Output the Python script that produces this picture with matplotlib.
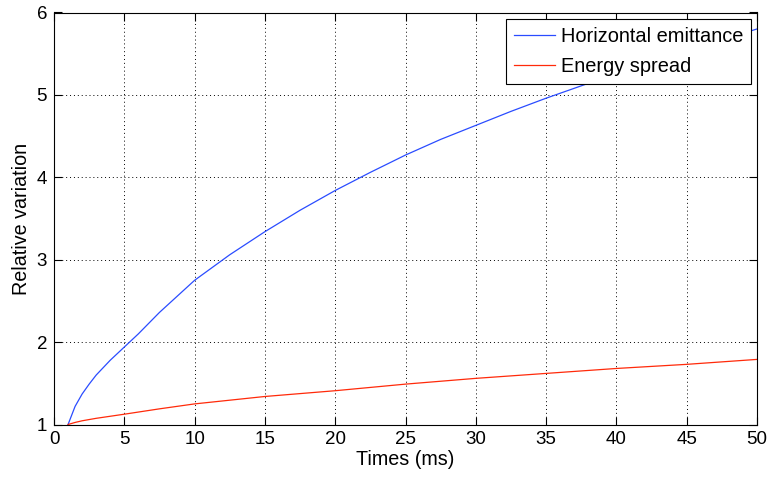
import matplotlib
matplotlib.use("Agg")
import matplotlib.pyplot as plt

# Data
t_emit = [1, 1.5, 2, 2.5, 3, 3.5, 4, 5, 6, 7.5, 10, 12.5, 15, 17.5, 20, 22.5, 25,
          27.5, 30, 32.5, 35, 37.5, 40, 42.5, 45, 47.5, 50]
emittance = [1.00, 1.22, 1.37, 1.49, 1.60, 1.69, 1.78, 1.94, 2.10, 2.36, 2.75,
             3.06, 3.34, 3.60, 3.84, 4.06, 4.27, 4.46, 4.63, 4.80, 4.96, 5.11,
             5.26, 5.40, 5.54, 5.67, 5.80]
t_spread = [1, 1.5, 2, 3, 4, 5, 7.5, 10, 15, 20, 25, 30, 35, 40, 45, 50]
spread = [1.00, 1.025, 1.045, 1.075, 1.10, 1.125, 1.19, 1.25, 1.34, 1.41,
          1.49, 1.56, 1.62, 1.68, 1.73, 1.79]
xticks = [0, 5, 10, 15, 20, 25, 30, 35, 40, 45, 50]
yticks = [1, 2, 3, 4, 5, 6]

plt.rcParams['font.family'] = ['Liberation Sans', 'DejaVu Sans']

fig = plt.figure(figsize=(7.69, 4.83), dpi=100)
ax = fig.add_axes([54/769, (483-424.5)/483, (757-54)/769, (424.5-12.5)/483])

ax.plot(t_emit, emittance, color='#2a4cff', lw=0.9, label='Horizontal emittance')
ax.plot(t_spread, spread, color='#ff2a0a', lw=0.9, label='Energy spread')

ax.set_xlim(0, 50)
ax.set_ylim(1, 6)
ax.set_xticks(xticks)
ax.set_yticks(yticks)
ax.tick_params(direction='in', top=True, right=True, length=6, width=0.8,
               labelsize=13.5, pad=5)
ax.grid(True, color='black', linestyle=(0, (1, 3)), linewidth=0.7)
for s in ax.spines.values():
    s.set_linewidth(0.8)

ax.set_xlabel('Times (ms)', fontsize=14.2, labelpad=1)
ax.set_ylabel('Relative variation', fontsize=14.2, labelpad=4)

leg = ax.legend(loc='upper right', fontsize=14.4, frameon=True, fancybox=False,
                edgecolor='black', framealpha=1, borderaxespad=0.3,
                handlelength=2.05, handletextpad=0.3, borderpad=0.4,
                labelspacing=0.55)
leg.get_frame().set_linewidth(0.8)

fig.savefig('out.png', dpi=100)
